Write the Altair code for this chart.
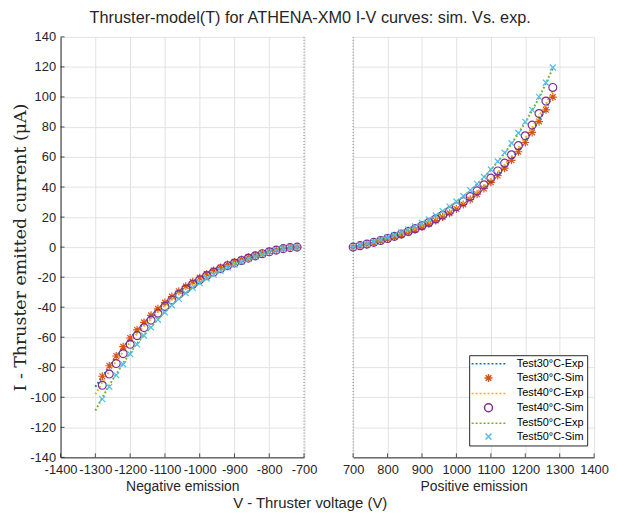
import altair as alt
import pandas as pd

SERIES = ["Test30°C-Exp", "Test30°C-Sim", "Test40°C-Exp", "Test40°C-Sim", "Test50°C-Exp", "Test50°C-Sim"]
COLORS = ["#0072BD", "#D95319", "#EDB120", "#7E2F8E", "#77AC30", "#4DBEEE"]

# Negative emission
V_NEG_EXP = [-1300, -1280, -1260, -1240, -1220, -1200, -1180, -1160, -1140, -1120, -1100, -1080, -1060, -1040,
             -1020, -1000, -980, -960, -940, -920, -900, -880, -860, -840, -820, -800, -780, -760, -740, -720]
V_NEG_SIM = [-1280, -1260, -1240, -1220, -1200, -1180, -1160, -1140, -1120, -1100, -1080, -1060, -1040,
             -1020, -1000, -980, -960, -940, -920, -900, -880, -860, -840, -820, -800, -780, -760, -740, -720]
I_NEG_EXP30 = [-93.0, -86.5, -79.4, -72.9, -66.6, -60.8, -55.4, -50.4, -45.7, -41.4, -37.1, -33.1, -29.5, -26.2,
               -23.2, -20.5, -17.9, -15.6, -13.5, -11.7, -10.0, -8.4, -6.9, -5.5, -4.1, -2.9, -1.9, -0.9, -0.3, 0.0]
I_NEG_SIM30 = [-86.0, -79.0, -72.5, -66.3, -60.5, -55.1, -50.1, -45.4, -41.1, -36.9, -32.9, -29.4, -26.1,
               -23.1, -20.4, -17.8, -15.5, -13.5, -11.6, -9.9, -8.3, -6.8, -5.4, -4.1, -2.9, -1.9, -0.9, -0.3, 0.0]
I_NEG_EXP40 = [-98.0, -90.2, -82.8, -76.0, -69.5, -63.4, -57.7, -52.5, -47.6, -43.1, -38.7, -34.5, -30.8, -27.3,
               -24.2, -21.4, -18.6, -16.3, -14.1, -12.2, -10.4, -8.7, -7.2, -5.7, -4.3, -3.0, -2.0, -1.0, -0.3, 0.0]
I_NEG_SIM40 = [-92.0, -84.5, -77.5, -70.9, -64.7, -58.9, -53.6, -48.6, -44.0, -39.5, -35.2, -31.4, -27.9,
               -24.7, -21.8, -19.0, -16.6, -14.4, -12.4, -10.6, -8.9, -7.3, -5.8, -4.4, -3.1, -2.0, -1.0, -0.3, 0.0]
I_NEG_EXP50 = [-108.8, -100.3, -92.1, -84.5, -77.3, -70.5, -64.2, -58.4, -53.0, -48.0, -43.1, -38.4, -34.2, -30.4,
               -26.9, -23.8, -20.7, -18.1, -15.7, -13.5, -11.6, -9.7, -8.0, -6.3, -4.8, -3.4, -2.2, -1.1, -0.3, 0.0]
I_NEG_SIM50 = [-101.2, -93.0, -85.3, -78.0, -71.2, -64.8, -59.0, -53.5, -48.4, -43.5, -38.7, -34.5, -30.7,
               -27.2, -24.0, -20.9, -18.3, -15.8, -13.6, -11.7, -9.8, -8.0, -6.4, -4.8, -3.4, -2.2, -1.1, -0.3, 0.0]

# Positive emission
V_POS = [700, 720, 740, 760, 780, 800, 820, 840, 860, 880, 900, 920, 940, 960, 980,
         1000, 1020, 1040, 1060, 1080, 1100, 1120, 1140, 1160, 1180, 1200, 1220, 1240, 1260, 1280]
I_POS_EXP30 = [0, 0.9, 1.9, 3.0, 4.2, 5.5, 6.8, 8.3, 9.9, 11.7, 13.6, 15.6, 17.8, 20.2, 22.8,
               25.7, 28.7, 32.0, 35.6, 39.4, 43.6, 48.2, 53.1, 58.4, 64.2, 70.4, 77.2, 84.5, 92.4, 101.0]
I_POS_SIM30 = [0, 0.91, 1.90, 2.98, 4.14, 5.40, 6.75, 8.23, 9.82, 11.55, 13.42, 15.45, 17.64, 20.02, 22.59,
               25.38, 28.40, 31.66, 35.20, 39.03, 43.17, 47.67, 52.54, 57.80, 63.50, 69.67, 76.36, 83.60, 91.44, 99.93]
I_POS_EXP40 = [0, 1.0, 2.0, 3.1, 4.3, 5.6, 7.0, 8.6, 10.2, 12.0, 14.0, 16.1, 18.4, 20.9, 23.5,
               26.5, 29.6, 33.0, 36.7, 40.7, 45.0, 49.7, 54.8, 60.3, 66.2, 72.6, 79.6, 87.2, 95.3, 104.2]
I_POS_SIM40 = [0, 0.97, 2.02, 3.17, 4.40, 5.74, 7.18, 8.75, 10.45, 12.29, 14.28, 16.44, 18.77, 21.30, 24.03,
               27.00, 30.21, 33.68, 37.45, 41.52, 45.93, 50.71, 55.89, 61.49, 67.55, 74.12, 81.23, 88.94, 97.28, 106.31]
I_POS_EXP50 = [0, 1.1, 2.3, 3.6, 4.9, 6.4, 8.0, 9.8, 11.7, 13.8, 16.0, 18.4, 21.0, 23.9, 26.9,
               30.2, 33.8, 37.7, 41.9, 46.5, 51.4, 56.8, 62.6, 68.9, 75.7, 83.0, 91.0, 99.6, 109.0, 119.1]
I_POS_SIM50 = [0, 1.09, 2.27, 3.57, 4.95, 6.46, 8.08, 9.84, 11.76, 13.83, 16.07, 18.50, 21.12, 23.96, 27.03,
               30.38, 33.99, 37.89, 42.13, 46.71, 51.67, 57.05, 62.88, 69.18, 75.99, 83.39, 91.38, 100.06, 109.44, 119.60]

X_TICKS_NEG = [-1400, -1300, -1200, -1100, -1000, -900, -800, -700]
X_TICKS_POS = [700, 800, 900, 1000, 1100, 1200, 1300, 1400]
Y_TICKS = [-140, -120, -100, -80, -60, -40, -20, 0, 20, 40, 60, 80, 100, 120, 140]

# legend symbols: dotted line for experiments, MATLAB-like markers for simulations
DOTS = "M-4.25,0H-3.75M-3.25,0H-2.75M-2.25,0H-1.75M-1.25,0H-0.75M-0.25,0H0.25M0.75,0H1.25M1.75,0H2.25M2.75,0H3.25M3.75,0H4.25"
ASTER = "M-1,0H1M0,-1V1M-0.71,-0.71L0.71,0.71M-0.71,0.71L0.71,-0.71"
CROSS = "M-0.75,-0.75L0.75,0.75M-0.75,0.75L0.75,-0.75"
SHAPES = [DOTS, ASTER, DOTS, "circle", DOTS, CROSS]

rows = []
def add(side, vs, cs, name):
    for v, c in zip(vs, cs):
        rows.append({"side": side, "V": v, "I": c, "series": name})

add("neg", V_NEG_EXP, I_NEG_EXP30, SERIES[0])
add("neg", V_NEG_SIM, I_NEG_SIM30, SERIES[1])
add("neg", V_NEG_EXP, I_NEG_EXP40, SERIES[2])
add("neg", V_NEG_SIM, I_NEG_SIM40, SERIES[3])
add("neg", V_NEG_EXP, I_NEG_EXP50, SERIES[4])
add("neg", V_NEG_SIM, I_NEG_SIM50, SERIES[5])
add("pos", V_POS, I_POS_EXP30, SERIES[0])
add("pos", V_POS, I_POS_SIM30, SERIES[1])
add("pos", V_POS, I_POS_EXP40, SERIES[2])
add("pos", V_POS, I_POS_SIM40, SERIES[3])
add("pos", V_POS, I_POS_EXP50, SERIES[4])
add("pos", V_POS, I_POS_SIM50, SERIES[5])
df = pd.DataFrame(rows)

WL, WR, H = 245.5, 243, 424
FONT = "Liberation Sans"
INK = "#262626"
GRID = "#e2e2e2"
TICK_FS = 13

LEGEND = alt.Legend(title=None, orient="none", legendX=117, legendY=321, direction="vertical",
                    symbolSize=64, symbolStrokeWidth=1.5, symbolOffset=11, labelOffset=23,
                    labelExpr="datum.label + '\u2002'",
                    labelFont=FONT, labelFontSize=11, labelColor="#000000",
                    strokeColor=INK, fillColor="white", padding=3, rowPadding=1.5)


def panel(side, xdom, xticks, xtitle, left, W):
    xax = alt.Axis(values=xticks, labelExpr="toString(datum.value)", grid=True, gridColor=GRID,
                   tickSize=0, domainColor=INK, domainWidth=1, labelFont=FONT, labelFontSize=TICK_FS,
                   labelColor=INK, labelPadding=6, labelFlush=False, labelOverlap=False, labelBound=False,
                   title=xtitle, titleFont=FONT, titleFontSize=14, titleFontWeight="normal",
                   titleColor=INK, titlePadding=3)
    if left:
        yax = alt.Axis(values=Y_TICKS, labelExpr="toString(datum.value)", grid=True, gridColor=GRID,
                       tickSize=0, domainColor=INK, domainWidth=1, labelFont=FONT, labelFontSize=TICK_FS,
                       labelColor=INK, labelPadding=5, labelFlush=False, labelOverlap=False,
                       title="I - Thruster emitted current (μA)", titleFont="DejaVu Serif",
                       titleFontSize=17.5, titleFontWeight="normal", titleColor=INK, titlePadding=0)
    else:
        yax = alt.Axis(values=Y_TICKS, grid=True, gridColor=GRID, labels=False, ticks=False,
                       domain=False, title=None)
    xenc = alt.X("V:Q", scale=alt.Scale(domain=xdom, nice=False, zero=False), axis=xax)
    yenc = alt.Y("I:Q", scale=alt.Scale(domain=[-140, 140], nice=False, zero=False), axis=yax)
    cscale = alt.Scale(domain=SERIES, range=COLORS)
    sscale = alt.Scale(domain=SERIES, range=SHAPES)
    base = alt.Chart(df).transform_filter(alt.datum.side == side)

    layers = []
    # dotted border line at the broken edge
    edge_x = W if left else 0
    layers.append(alt.Chart(pd.DataFrame({"e": [0]})).mark_rule(color="#7a7a7a", strokeWidth=1,
                                                               strokeDash=[1, 2])
                  .encode(x=alt.value(edge_x), y=alt.value(0), y2=alt.value(H)))
    for k, name in enumerate(SERIES):
        sub = base.transform_filter(alt.datum.series == name)
        if name.endswith("Exp"):
            layers.append(sub.mark_line(strokeDash=[1.8, 2.2], strokeWidth=2, color=COLORS[k]).encode(
                x=xenc, y=yenc, order="V:Q"))
        else:
            leg = None if left else LEGEND
            layers.append(sub.mark_point(filled=False, size=64, strokeWidth=1.2, opacity=1).encode(
                x=xenc, y=yenc,
                color=alt.Color("series:N", scale=cscale, legend=leg),
                shape=alt.Shape("series:N", scale=sscale, legend=leg)))
    # inward ticks (MATLAB style)
    layers.append(alt.Chart(pd.DataFrame({"V": xticks})).mark_rule(color=INK, strokeWidth=0.8)
                  .encode(x=xenc, y=alt.value(H), y2=alt.value(H - 4)))
    if left:
        layers.append(alt.Chart(pd.DataFrame({"I": Y_TICKS})).mark_rule(color=INK, strokeWidth=0.8)
                      .encode(y=yenc, x=alt.value(0), x2=alt.value(4)))
    return alt.layer(*layers).properties(width=W, height=H)


left = panel("neg", [-1400, -700], X_TICKS_NEG, "Negative emission", True, WL)
right = panel("pos", [700, 1400], X_TICKS_POS, "Positive emission", False, WR)

inner = alt.hconcat(left, right, spacing=49, bounds="flush").resolve_scale(
    color="independent", shape="independent", x="independent", y="independent"
).properties(title=alt.TitleParams("V - Thruster voltage (V)", orient="bottom", font=FONT, fontSize=15,
                                   fontWeight="normal", color=INK, anchor="middle", offset=3))

chart = alt.vconcat(inner).properties(
    title=alt.TitleParams("Thruster-model(T) for ATHENA-XM0 I-V curves: sim. Vs. exp.", font=FONT,
                          fontSize=16.4, fontWeight="normal", color=INK, anchor="middle", offset=4),
    padding={"left": 3, "top": 0, "right": 0, "bottom": 0}, background="white"
).configure_view(stroke="transparent")

chart.save("out.html", embed_options={"renderer": "svg", "actions": False})
